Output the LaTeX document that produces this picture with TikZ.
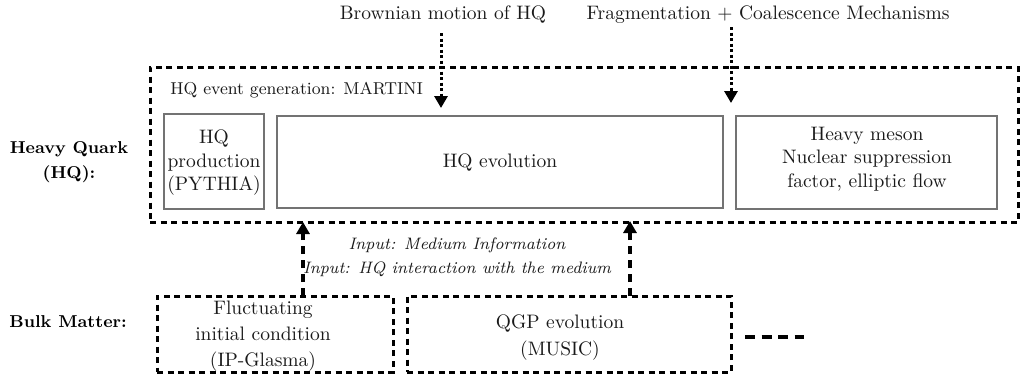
\documentclass[tikz,border=0pt]{standalone}
\usetikzlibrary{arrows.meta}
\begin{document}
\begin{tikzpicture}[x=0.5pt,y=-0.5pt,
  txt/.style={font=\fontsize{9.75}{11.75}\selectfont, align=center, inner sep=0pt, text=black!90},
  lbl/.style={font=\fontsize{8.6}{12.5}\selectfont\bfseries, align=center, inner sep=0pt},
  graybox/.style={draw=black!55, line width=0.9pt, inner sep=0pt},
  outerbox/.style={draw=black, line width=1.5pt, dash pattern=on 3pt off 2.25pt, inner sep=0pt},
  bulkbox/.style={draw=black, line width=1.5pt, dash pattern=on 3pt off 2.25pt, inner sep=0pt},
  dotarrow/.style={draw=black, line width=1.5pt, dash pattern=on 1.5pt off 1.25pt, -{Triangle[width=6.5pt,length=6pt]}},
  dasharrow/.style={draw=black, line width=1.75pt, dash pattern=on 4pt off 3pt, -{Triangle[width=6.5pt,length=6pt]}}
]
\useasboundingbox (0,0) rectangle (1024,377);
% labels
\node[lbl] (hqlabel) at (69,162) {Heavy Quark\\(HQ):};
\node[lbl] (bulklabel) at (68,322) {Bulk Matter:};
% outer box
\node[outerbox, minimum width=434pt, minimum height=77.5pt] (outer) at (584,144.5) {};
\node[txt, anchor=west, font=\fontsize{8.6}{10}\selectfont] (martini) at (170,90) {HQ event generation: MARTINI};
% inner boxes
\node[graybox, minimum width=50pt, minimum height=47.5pt] (prod) at (214,161.5) {};
\node[txt] (prodtxt) at (214,163) {HQ\\production\\(PYTHIA)};
\node[graybox, minimum width=223pt, minimum height=46pt] (evol) at (500,162) {};
\node[txt] (evoltxt) at (500,163) {HQ evolution};
\node[graybox, minimum width=130.5pt, minimum height=46.5pt] (meson) at (866.5,162.5) {};
\node[txt] (mesontxt) at (867,159) {Heavy meson\\Nuclear suppression\\factor, elliptic flow};
% top texts
\node[txt] (brown) at (443,15) {Brownian motion of HQ};
\node[txt] (frag) at (768,15) {Fragmentation + Coalescence Mechanisms};
\coordinate (browntop) at (441,33);
\coordinate (brownend) at (441,108);
\coordinate (fragtop) at (731,27);
\coordinate (fragend) at (731,103);
\draw[dotarrow] (browntop) -- (brownend);
\draw[dotarrow] (fragtop) -- (fragend);
% bulk boxes
\node[bulkbox, minimum width=118pt, minimum height=38pt] (fluct) at (275,334) {};
\node[txt, font=\fontsize{9.75}{13}\selectfont] (flucttxt) at (263,336) {Fluctuating\\initial condition\\(IP-Glasma)};
\node[bulkbox, minimum width=162pt, minimum height=38pt] (qgp) at (569,334) {};
\node[txt, font=\fontsize{9.75}{13.5}\selectfont] (qgptxt) at (560,338) {QGP evolution\\(MUSIC)};
\coordinate (dashA) at (745,337);
\coordinate (dashB) at (804,337);
\draw[line width=2pt, dash pattern=on 5pt off 3.25pt] (dashA) -- (dashB);
% up arrows
\coordinate (upAs) at (303,296);
\coordinate (upAe) at (303,222);
\coordinate (upBs) at (630,296);
\coordinate (upBe) at (630,221);
\draw[dasharrow] (upAs) -- (upAe);
\draw[dasharrow] (upBs) -- (upBe);
\node[txt, font=\fontsize{8.3}{12}\selectfont\itshape] (input) at (457,257) {Input: Medium Information\\Input: HQ interaction with the medium};
\end{tikzpicture}
\end{document}
